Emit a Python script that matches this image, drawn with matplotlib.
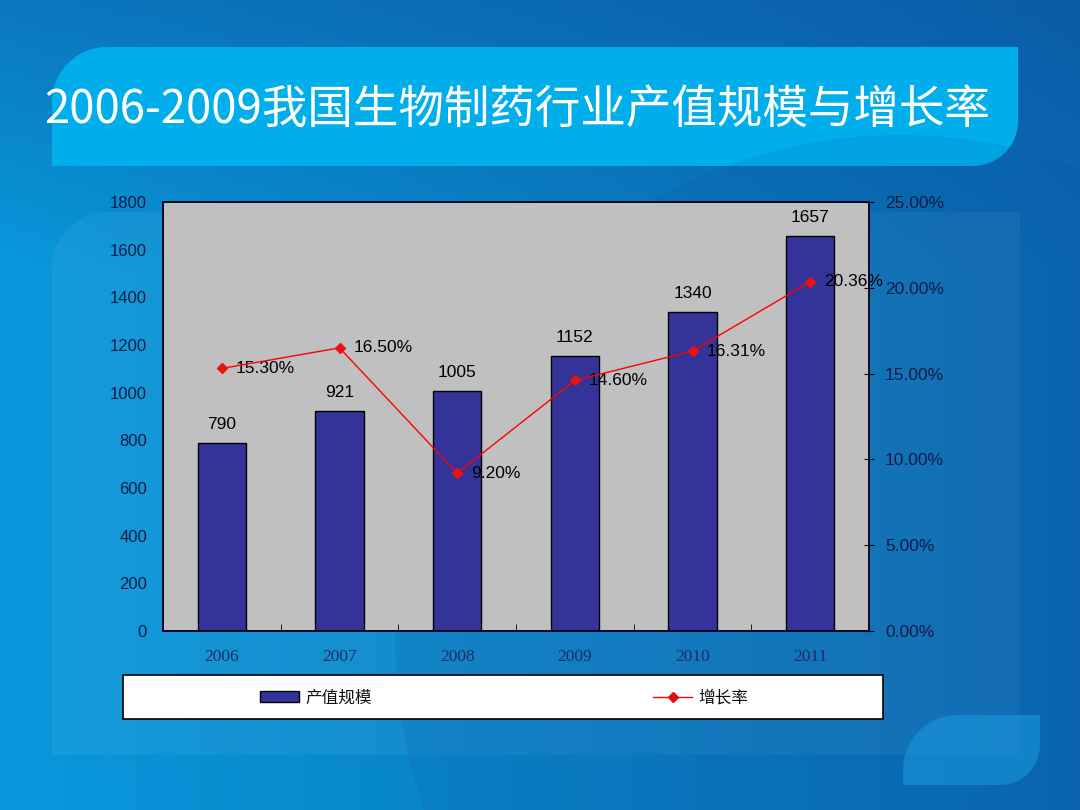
import numpy as np
import matplotlib
matplotlib.use("Agg")
import matplotlib.pyplot as plt
from matplotlib.patches import Polygon, Circle, Rectangle
from matplotlib.lines import Line2D
from matplotlib.patches import Patch
from matplotlib.ticker import FixedLocator, FuncFormatter

plt.rcParams['font.family'] = ['Liberation Sans', 'Noto Sans CJK SC', 'DejaVu Sans']

# ---------------- data ----------------
title = "2006-2009我国生物制药行业产值规模与增长率"
years = ["2006", "2007", "2008", "2009", "2010", "2011"]
output_value = [790, 921, 1005, 1152, 1340, 1657]
growth_rate = [15.30, 16.50, 9.20, 14.60, 16.31, 20.36]
bar_label = "产值规模"
line_label = "增长率"

W, H = 1080, 810
fig = plt.figure(figsize=(W / 100, H / 100), dpi=100)

# ---------------- background (slide) ----------------
bg = fig.add_axes([0, 0, 1, 1], zorder=-10)
bg.set_xlim(0, W)
bg.set_ylim(H, 0)
bg.axis('off')


def hex2rgb(h):
    h = h.lstrip('#')
    return np.array([int(h[i:i + 2], 16) / 255 for i in (0, 2, 4)])


tl, tr, bl, br = (hex2rgb(c) for c in ("#0b78bf", "#0a5da7", "#0899db", "#0a68b1"))
xs = np.linspace(0, 1, 200)[None, :, None]
ys = np.linspace(0, 1, 150)[:, None, None]
ys_c = np.clip(ys * 3.0, 0, 1)
img = (1 - ys_c) * ((1 - xs) * tl + xs * tr) + ys_c * ((1 - xs) * bl + xs * br)
bg.imshow(img, extent=[0, W, H, 0], aspect='auto', zorder=0)


def rounded(x0, y0, x1, y1, r_tl=0, r_tr=0, r_br=0, r_bl=0, n=30):
    pts = []
    def arc(cx, cy, r, a0, a1):
        t = np.linspace(np.radians(a0), np.radians(a1), n)
        return list(zip(cx + r * np.cos(t), cy + r * np.sin(t)))
    pts += arc(x0 + r_tl, y0 + r_tl, r_tl, 180, 270) if r_tl else [(x0, y0)]
    pts += arc(x1 - r_tr, y0 + r_tr, r_tr, 270, 360) if r_tr else [(x1, y0)]
    pts += arc(x1 - r_br, y1 - r_br, r_br, 0, 90) if r_br else [(x1, y1)]
    pts += arc(x0 + r_bl, y1 - r_bl, r_bl, 90, 180) if r_bl else [(x0, y1)]
    return np.array(pts)


# content panel (slightly lighter)
bg.add_patch(Polygon(rounded(52, 212, 1020, 755, r_tl=55), closed=True,
                     facecolor='white', alpha=0.05, edgecolor='none', zorder=1))
# title banner
bg.add_patch(Polygon(rounded(52, 47, 1018, 166, r_tl=55, r_br=45), closed=True,
                     facecolor='#00aeec', edgecolor='none', zorder=2))
# large decorative circle
bg.add_patch(Circle((900, 640), 505, facecolor='#0a4f99', alpha=0.12,
                    edgecolor='none', zorder=3))
# bottom-right small shape
bg.add_patch(Polygon(rounded(903, 715, 1040, 785, r_tl=55, r_br=40), closed=True,
                     facecolor='#1a9ae0', alpha=0.55, edgecolor='none', zorder=4))

fig.text(44 / W, 1 - 110 / H, title, color='white', fontsize=32.8,
         family=['Noto Sans CJK SC'], va='center', ha='left')

# ---------------- chart ----------------
ax = fig.add_axes([163 / W, 1 - 631 / H, 706 / W, 429 / H])
ax.set_facecolor('#c0c0c0')
x = np.arange(len(years))
bars = ax.bar(x, output_value, width=0.41, color='#333399', edgecolor='#000000',
              linewidth=1.0, zorder=2)
ax.set_xlim(-0.5, len(years) - 0.5)
ax.set_ylim(0, 1800)
ax.set_yticks(np.arange(0, 1801, 200))
tick_col = '#0d1d45'
ax.tick_params(axis='y', length=0, pad=11.5, labelsize=12, labelcolor=tick_col)
ax.set_xticks(x)
ax.set_xticklabels(years, family=['Liberation Serif'], fontsize=12.5, color='#1c2f60')
ax.tick_params(axis='x', which='major', length=0, pad=13)
ax.xaxis.set_minor_locator(FixedLocator(np.arange(-0.5, len(years), 1.0)))
ax.tick_params(axis='x', which='minor', direction='in', length=5, color='#000000')
for s in ax.spines.values():
    s.set_color('#000020')
    s.set_linewidth(1.1)

for xi, v in zip(x, output_value):
    ax.annotate(f"{v}", (xi, v), xytext=(0, 8), textcoords='offset points',
                ha='center', va='bottom', fontsize=12.5, color='#000000')

ax2 = ax.twinx()
ax2.set_ylim(0, 25)
ax2.set_yticks(np.arange(0, 25.01, 5))
ax2.yaxis.set_major_formatter(FuncFormatter(lambda v, p: f"{v:.2f}%"))
ax2.tick_params(axis='y', direction='inout', length=7, color='#000000', pad=8,
                labelsize=12.5, labelcolor=tick_col)
for s in ax2.spines.values():
    s.set_color('#000020')
    s.set_linewidth(1.1)
ax2.plot(x, growth_rate, color='#ff0000', linewidth=1.0, marker='D',
         markersize=5, markerfacecolor='#ee1111', markeredgecolor='#ee1111', zorder=5)
for xi, v in zip(x, growth_rate):
    ax2.annotate(f"{v:.2f}%", (xi, v), xytext=(10, 0), textcoords='offset points',
                 ha='left', va='center', fontsize=12.5, color='#000000')

# ---------------- legend ----------------
bg.add_patch(Rectangle((123, 675), 760, 44, facecolor='white', edgecolor='#000000',
                       linewidth=1.2, zorder=6))
handles = [Patch(facecolor='#333399', edgecolor='#000000', linewidth=1.0),
           Line2D([], [], color='#ff0000', linewidth=1.0, marker='D', markersize=5,
                  markerfacecolor='#dd1111', markeredgecolor='#dd1111')]
leg = fig.legend(handles, [bar_label, line_label], ncol=2, frameon=False,
                 loc='center left', bbox_to_anchor=(260 / W, 1 - 698 / H),
                 bbox_transform=fig.transFigure, borderpad=0, borderaxespad=0,
                 prop={'family': ['Noto Sans CJK SC'], 'size': 12},
                 handlelength=2.35, handleheight=0.6, handletextpad=0.35,
                 columnspacing=16.9)
for t in leg.get_texts():
    t.set_color('#111111')

fig.savefig("out.png", dpi=100)
